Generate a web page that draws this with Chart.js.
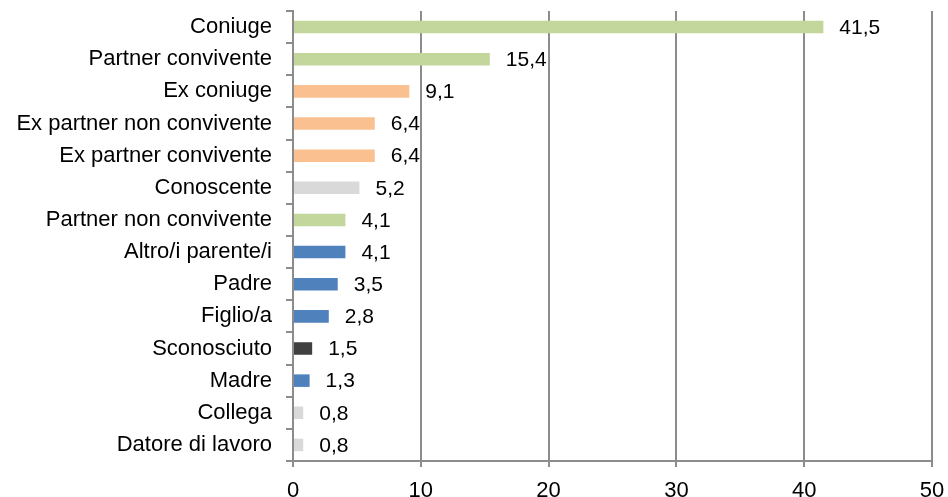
<!DOCTYPE html>
<html>
<head>
<meta charset="utf-8">
<script src="https://cdn.jsdelivr.net/npm/chart.js@4.4.0/dist/chart.umd.min.js"></script>
<style>
  html, body { margin: 0; padding: 0; background: #fff; overflow: hidden; }
  #wrap { width: 948px; height: 497px; }
</style>
</head>
<body>
<div id="wrap"><canvas id="chart"></canvas></div>
<script>
// Chart data
const categories = ['Coniuge','Partner convivente','Ex coniuge','Ex partner non convivente','Ex partner convivente','Conoscente','Partner non convivente','Altro/i parente/i','Padre','Figlio/a','Sconosciuto','Madre','Collega','Datore di lavoro'];
const values = [41.5, 15.4, 9.1, 6.4, 6.4, 5.2, 4.1, 4.1, 3.5, 2.8, 1.5, 1.3, 0.8, 0.8];
const barColors = ['#c3d69b','#c3d69b','#fac090','#fac090','#fac090','#d9d9d9','#c3d69b','#4f81bd','#4f81bd','#4f81bd','#404040','#4f81bd','#d9d9d9','#d9d9d9'];
const xTicks = [0, 10, 20, 30, 40, 50];

const FONT = "'Liberation Sans', Arial, sans-serif";
const gridGray = '#8c8c8c';

// value labels to the right of each bar
const valueLabels = {
    id: 'valueLabels',
    afterDatasetsDraw(chart) {
        const ctx = chart.ctx;
        const meta = chart.getDatasetMeta(0);
        ctx.save();
        ctx.font = '21px ' + FONT;
        ctx.fillStyle = '#000';
        ctx.textBaseline = 'middle';
        meta.data.forEach((bar, i) => {
            const txt = values[i].toFixed(1).replace('.', ',');
            ctx.fillText(txt, bar.x + 16, bar.y + 1);
        });
        ctx.restore();
    }
};

new Chart(document.getElementById('chart'), {
    type: 'bar',
    data: {
        labels: categories,
        datasets: [{
            data: values,
            backgroundColor: barColors,
            borderWidth: 0,
            barPercentage: 0.78,
            categoryPercentage: 0.5
        }]
    },
    options: {
        indexAxis: 'y',
        responsive: true,
        maintainAspectRatio: false,
        animation: false,
        layout: { padding: { top: 11, right: 16, left: 0, bottom: 0 } },
        plugins: {
            legend: { display: false },
            tooltip: { enabled: false }
        },
        scales: {
            x: {
                min: 0,
                max: 50,
                afterBuildTicks(scale) {
                    scale.ticks = xTicks.map(v => ({ value: v }));
                },
                afterFit(scale) {
                    scale.height = 36;
                    scale.paddingLeft = 0;
                    scale.paddingRight = 0;
                },
                grid: { color: gridGray, lineWidth: 2, tickLength: 6 },
                border: { color: gridGray, width: 2 },
                ticks: { color: '#000', padding: 11, font: { family: FONT, size: 22 } }
            },
            y: {
                afterFit(scale) {
                    scale.width = 293;
                    scale.paddingTop = 0;
                    scale.paddingBottom = 0;
                },
                grid: { drawOnChartArea: false, color: gridGray, lineWidth: 2, tickLength: 7, offset: true },
                border: { color: gridGray, width: 2 },
                ticks: { color: '#000', padding: 14, font: { family: FONT, size: 22 } }
            }
        }
    },
    plugins: [valueLabels]
});
</script>
</body>
</html>
